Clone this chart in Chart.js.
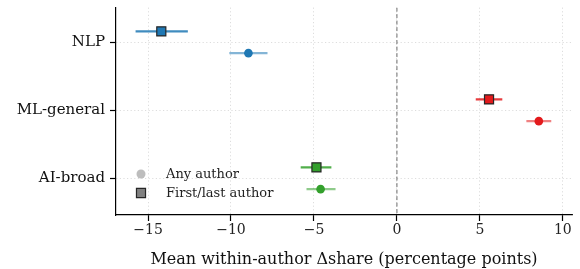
<!DOCTYPE html>
<html>
<head>
<meta charset="utf-8">
<script src="https://cdn.jsdelivr.net/npm/chart.js@4.4.1/dist/chart.umd.min.js"></script>
<style>
  html, body { margin: 0; padding: 0; background: #fff; }
  #wrap { width: 580px; height: 269px; }
</style>
</head>
<body>
<div id="wrap"><canvas id="chart" width="580" height="269"></canvas></div>
<script>
// categories, top to bottom
const categories = ['NLP', 'ML-general', 'AI-broad'];
const colors = ['#1f78b4', '#e31a1c', '#33a02c'];
const fadedColors = ['rgba(31,120,180,', 'rgba(227,26,28,', 'rgba(51,160,44,'];

// first/last author (squares)
const firstLastMean = [-14.2, 5.55, -4.85];
const firstLastLow = [-15.75, 4.75, -5.8];
const firstLastHigh = [-12.6, 6.35, -3.95];

// any author (circles)
const anyMean = [-8.95, 8.55, -4.6];
const anyLow = [-10.1, 7.8, -5.45];
const anyHigh = [-7.8, 9.3, -3.7];

const xTicks = [-15, -10, -5, 0, 5, 10];
const xMin = -16.93, xMax = 10.55;
const yMin = -0.51, yMax = 2.54;
const offset = 0.16;

const datasets = [];
categories.forEach((cat, i) => {
    datasets.push({
        label: cat + ' first/last',
        data: [{ x: firstLastMean[i], y: i - offset }],
        pointStyle: 'rect',
        pointRadius: 6.4,
        backgroundColor: colors[i],
        borderColor: '#262626',
        borderWidth: 1.2,
        order: 0
    });
    datasets.push({
        label: cat + ' any',
        data: [{ x: anyMean[i], y: i + offset }],
        pointStyle: 'circle',
        pointRadius: 4.3,
        backgroundColor: colors[i],
        borderColor: colors[i],
        borderWidth: 0,
        order: 0
    });
    datasets.push({
        label: cat + ' first/last CI',
        data: [{ x: firstLastLow[i], y: i - offset }, { x: firstLastHigh[i], y: i - offset }],
        showLine: true,
        pointRadius: 0,
        borderColor: fadedColors[i] + '0.85)',
        borderWidth: 2.2,
        order: 1
    });
    datasets.push({
        label: cat + ' any CI',
        data: [{ x: anyLow[i], y: i + offset }, { x: anyHigh[i], y: i + offset }],
        showLine: true,
        pointRadius: 0,
        borderColor: fadedColors[i] + '0.55)',
        borderWidth: 2.2,
        order: 1
    });
});
datasets.push({
    label: 'zero',
    data: [{ x: 0, y: yMin }, { x: 0, y: yMax }],
    showLine: true,
    pointRadius: 0,
    borderColor: '#6e6e6e',
    borderWidth: 1,
    borderDash: [4, 2.5],
    order: 2
});

// legend drawn inside the plot, bottom-left
const innerLegend = {
    id: 'innerLegend',
    afterDraw(chart) {
        const ctx = chart.ctx;
        const area = chart.chartArea;
        const items = [
            { text: 'Any author', style: 'circle', radius: 4.5, fill: '#bdbdbd', stroke: '#bdbdbd', bw: 0 },
            { text: 'First/last author', style: 'rect', radius: 6.4, fill: '#808080', stroke: '#262626', bw: 1.2 }
        ];
        ctx.save();
        ctx.font = '13px "DejaVu Serif"';
        ctx.textBaseline = 'middle';
        items.forEach((it, k) => {
            const x = area.left + 25;
            const y = area.bottom - 41 + k * 19;
            ctx.fillStyle = it.fill;
            ctx.strokeStyle = it.stroke;
            ctx.lineWidth = it.bw;
            Chart.helpers.drawPoint(ctx, { pointStyle: it.style, radius: it.radius, borderWidth: it.bw, rotation: 0 }, x, y);
            ctx.fillStyle = '#222';
            ctx.fillText(it.text, x + 25, y + 1);
        });
        ctx.restore();
    }
};

Chart.defaults.font.family = '"DejaVu Serif", serif';
Chart.defaults.color = '#222';

new Chart(document.getElementById('chart'), {
    type: 'scatter',
    data: { datasets },
    options: {
        responsive: false,
        animation: false,
        layout: { padding: { top: 0, right: 8, left: 0, bottom: 0 } },
        plugins: {
            legend: { display: false },
            tooltip: { enabled: false }
        },
        scales: {
            x: {
                type: 'linear',
                min: xMin,
                max: xMax,
                afterBuildTicks: (scale) => { scale.ticks = xTicks.map(v => ({ value: v })); },
                afterFit: (scale) => { scale.height = 54; },
                ticks: {
                    font: { size: 14 },
                    color: '#222',
                    padding: 1,
                    maxRotation: 0,
                    autoSkip: false,
                    callback: (v) => v < 0 ? '\u2212' + Math.abs(v) : String(v)
                },
                grid: {
                    color: '#d4d4d4',
                    lineWidth: 0.8,
                    tickLength: 6,
                    tickColor: '#000',
                    tickWidth: 1.2,
                    tickBorderDash: []
                },
                border: { display: true, color: '#000', width: 1.2, dash: [1.2, 2.4] },
                title: {
                    display: true,
                    text: 'Mean within-author \u0394share (percentage points)',
                    font: { size: 16 },
                    color: '#111',
                    padding: { top: 2, bottom: 0 }
                }
            },
            y: {
                type: 'linear',
                reverse: true,
                min: yMin,
                max: yMax,
                afterBuildTicks: (scale) => { scale.ticks = categories.map((c, i) => ({ value: i })); },
                afterFit: (scale) => {
                    scale.width = 116;
                    scale.paddingTop = 0;
                    scale.paddingBottom = 0;
                },
                ticks: {
                    font: { size: 15 },
                    color: '#111',
                    padding: 5,
                    callback: (v) => categories[v]
                },
                grid: {
                    color: '#d4d4d4',
                    lineWidth: 0.8,
                    tickLength: 6,
                    tickColor: '#000',
                    tickWidth: 1.2,
                    tickBorderDash: []
                },
                border: { display: true, color: '#000', width: 1.2, dash: [1.2, 2.4] }
            }
        }
    },
    plugins: [innerLegend]
});
</script>
</body>
</html>
